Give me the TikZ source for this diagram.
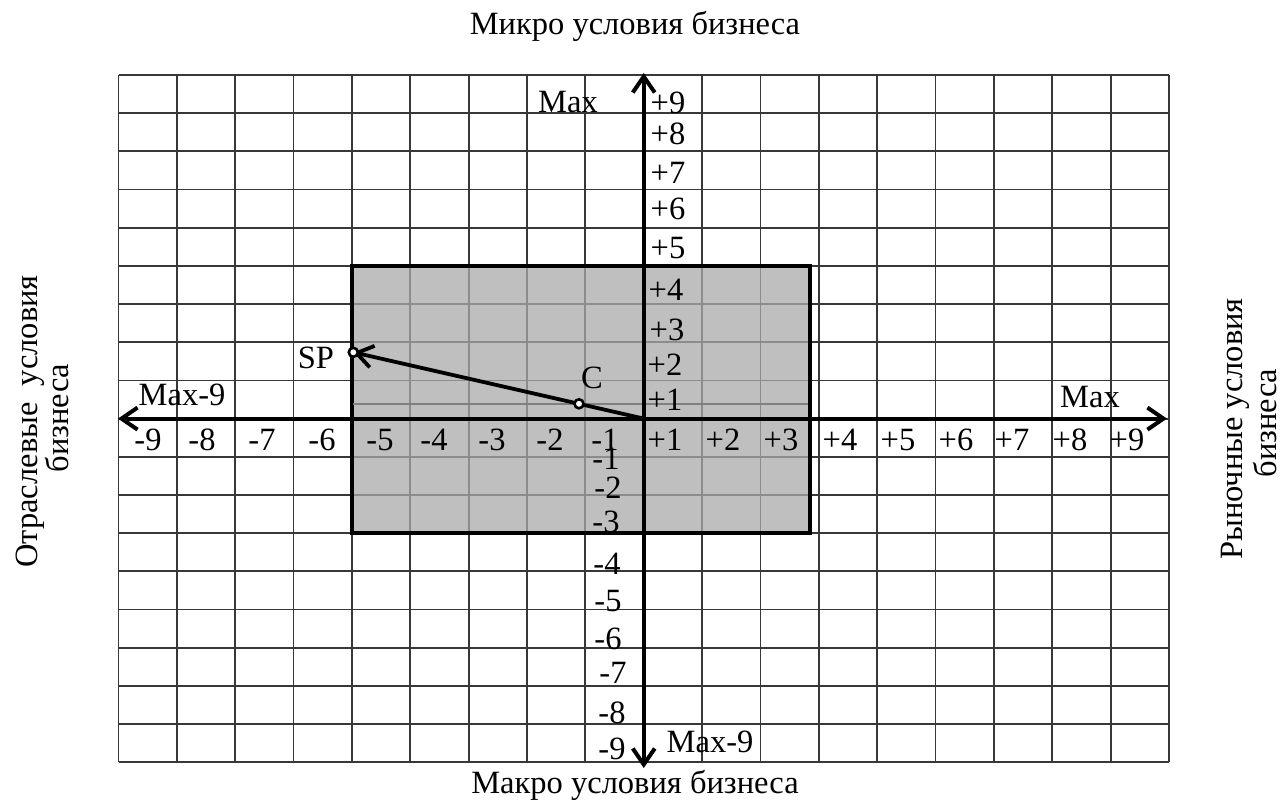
\documentclass[tikz,border=0pt]{standalone}
\usepackage{fontspec}
\setmainfont{Liberation Serif}
\usetikzlibrary{arrows.meta}
\tikzset{
  gridline/.style={draw=black!78, line width=1.8pt},
  innergrid/.style={draw=black!45, line width=1.8pt},
  axisline/.style={draw=black, line width=4pt, -{Straight Barb[length=16pt,width=22pt]}},
  spline/.style={draw=black, line width=3.8pt, -{Straight Barb[length=16pt,width=22pt]}},
  lbl/.style={inner sep=0pt, font=\fontsize{32.5}{36}\selectfont},
  dot/.style={circle, draw=black, line width=2.6pt, fill=white, minimum size=9pt, inner sep=0pt},
}
\begin{document}
\begin{tikzpicture}[x=1pt, y=-1pt]
\useasboundingbox (0,0) rectangle (1282,800);
\fill[white] (0,0) rectangle (1282,800);
% grid
\foreach \i in {0,...,18} {
  \draw[gridline] ({118.5+\i*58.36},75) -- ({118.5+\i*58.36},762.3);
  \draw[gridline] (118.5,{75+\i*38.18}) -- (1169,{75+\i*38.18});
}
% zone
\coordinate (ZA) at (351.94,265.9);
\coordinate (ZB) at (810,533.2);
\fill[black!25] (ZA) rectangle (ZB);
\begin{scope}
\clip (ZA) rectangle (ZB);
\foreach \i in {0,...,18} {
  \draw[innergrid] ({118.5+\i*58.36},75) -- ({118.5+\i*58.36},762.3);
  \draw[innergrid] (118.5,{75+\i*38.18}) -- (1169,{75+\i*38.18});
}
\end{scope}
\draw[black, line width=4pt] (ZA) rectangle (ZB);
% grey line
\coordinate (GL) at (353,404);
\coordinate (GR) at (808,404);
\draw[black!50, line width=2.5pt] (GL) -- (GR);
% axes
\coordinate (O) at (643.74,418.6);
\coordinate (XL) at (118,418.6);
\coordinate (XR) at (1167,418.6);
\coordinate (YT) at (643.74,73);
\coordinate (YB) at (643.74,768);
\draw[axisline] (O) -- (XL);
\draw[axisline] (O) -- (XR);
\draw[axisline] (O) -- (YT);
\draw[axisline] (O) -- (YB);
% SP vector
\coordinate (SP) at (353.3,352.3);
\draw[spline] (O) -- (SP);
\node[dot] (spdot) at (SP) {};
\node[dot] (cdot) at (579,403.8) {};
\node[lbl] (splbl) at (316,358) {SP};
\node[lbl] (clbl) at (592,378) {C};
% Max labels
\node[lbl] (maxtop) at (568,102) {Max};
\node[lbl] (maxleft) at (182,395) {Max-9};
\node[lbl] (maxright) at (1090,397) {Max};
\node[lbl] (maxbot) at (710,742) {Max-9};
% x axis labels
\foreach \t/\x [count=\k] in {-9/148,-8/202,-7/262,-6/322,-5/380,-4/434,-3/492,-2/550,-1/605,+1/665,+2/723,+3/781,+4/840,+5/898,+6/956,+7/1012,+8/1070,+9/1127}
  \node[lbl] (xl\k) at (\x,440) {\t};
% y axis labels
\foreach \t/\x/\y [count=\k] in {+9/668/103,+8/668/134,+7/668/173,+6/668/209,+5/668/248,+4/666/290,+3/667/330,+2/665/365,+1/665/400,-1/606/459,-2/608/488,-3/606/522,-4/607/564,-5/608/601,-6/608/639,-7/613/673,-8/612/713,-9/612/749}
  \node[lbl] (yl\k) at (\x,\y) {\t};
% titles
\node[lbl, anchor=base] (ttop) at (635,35) {Микро условия бизнеса};
\node[lbl, anchor=base] (tbot) at (635,793) {Макро условия бизнеса};
\node[lbl, anchor=base, rotate=90] (tleft1) at (37,421.5) {Отраслевые\ \ условия};
\node[lbl, anchor=base, rotate=90] (tleft2) at (68,418) {бизнеса};
\node[lbl, anchor=base, rotate=90] (tright1) at (1242,429) {Рыночные условия};
\node[lbl, anchor=base, rotate=90] (tright2) at (1276,423) {бизнеса};
\end{tikzpicture}
\end{document}
